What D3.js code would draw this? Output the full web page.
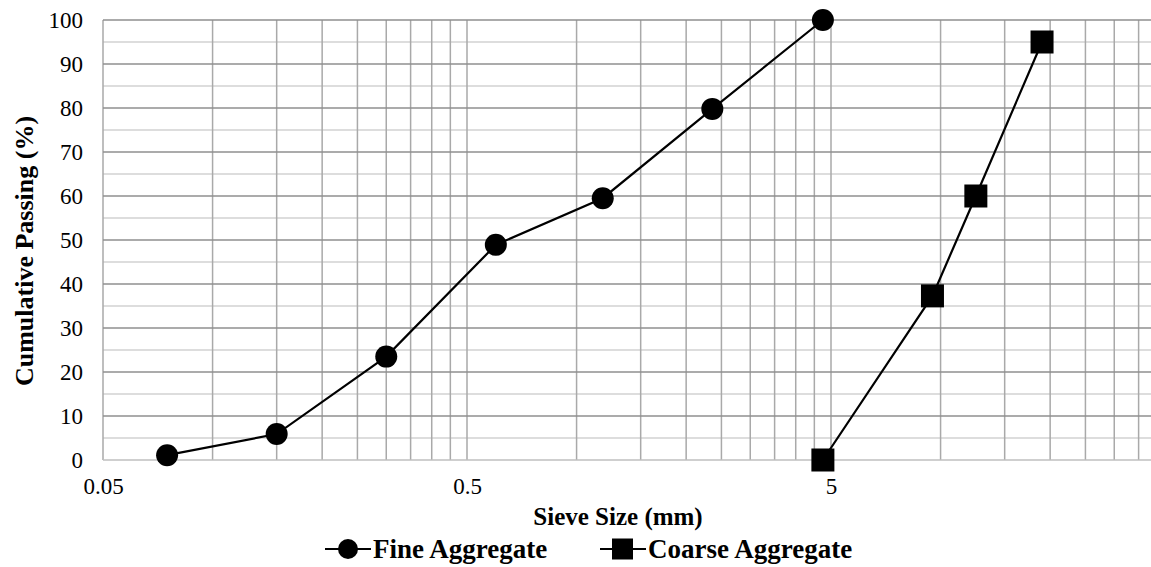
<!DOCTYPE html>
<html><head><meta charset="utf-8">
<script src="https://cdn.jsdelivr.net/npm/d3@7"></script>
<style>body{margin:0;background:#fff}svg{display:block}</style>
</head><body>
<svg id="c" width="1151" height="567"></svg>
<script>
const fineSize = [0.075, 0.15, 0.3, 0.6, 1.18, 2.36, 4.75];
const finePassing = [1.1, 5.9, 23.5, 48.9, 59.5, 79.8, 100];
const coarseSize = [4.75, 9.5, 12.5, 19];
const coarsePassing = [0, 37.3, 60, 95];
const xTickLabels = [0.05, 0.5, 5];
const yTicks = [0,10,20,30,40,50,60,70,80,90,100];
const seriesNames = ["Fine Aggregate", "Coarse Aggregate"];
const FONT = "Liberation Serif";

const svg = d3.select("#c");
const x = d3.scaleLog().domain([0.05, 50]).range([103, 1195]);
const y = d3.scaleLinear().domain([0, 100]).range([460, 20]);

const g = svg.append("g");
for (let v = 5; v < 100; v += 10) {
  g.append("line").attr("x1", 103).attr("x2", 1151).attr("y1", y(v)).attr("y2", y(v))
    .attr("stroke", "#d2d2d2").attr("stroke-width", 1.5);
}
const vAll = [];
[0.05, 0.5, 5].forEach(d => { for (let k = 1; k < 10; k++) vAll.push(d * k); });
vAll.forEach(v => {
  const px = x(v);
  if (px > 1151) return;
  g.append("line").attr("x1", px).attr("x2", px).attr("y1", y(0)).attr("y2", y(100))
    .attr("stroke", "#a9a9a9").attr("stroke-width", 1.5);
});
yTicks.forEach(v => {
  g.append("line").attr("x1", 103).attr("x2", 1151).attr("y1", y(v)).attr("y2", y(v))
    .attr("stroke", v === 0 ? "#bfbfbf" : "#8f8f8f").attr("stroke-width", 1.5);
});

const yAxis = d3.axisLeft(y).tickValues(yTicks).tickSize(0).tickPadding(0);
const ya = svg.append("g").attr("transform", "translate(83,0)").call(yAxis).attr("font-family", FONT).attr("font-size", 23);
ya.select(".domain").remove();
ya.selectAll("text").attr("fill", "#000");

const xAxis = d3.axisBottom(x).tickValues(xTickLabels).tickFormat(d => String(d)).tickSize(0).tickPadding(0);
const xa = svg.append("g").attr("transform", "translate(0,478)").call(xAxis).attr("font-family", FONT).attr("font-size", 23);
xa.select(".domain").remove();
xa.selectAll("text").attr("fill", "#000");

svg.append("text").attr("x", 618).attr("y", 525).attr("text-anchor", "middle").attr("font-family", FONT)
  .attr("font-size", 25).attr("font-weight", "bold").text("Sieve Size (mm)");
svg.append("text").attr("transform", "translate(33,251) rotate(-90)").attr("text-anchor", "middle").attr("font-family", FONT)
  .attr("font-size", 26).attr("font-weight", "bold").text("Cumulative Passing (%)");

const line = d3.line().x(d => x(d[0])).y(d => y(d[1]));
const fine = fineSize.map((s, i) => [s, finePassing[i]]);
const coarse = coarseSize.map((s, i) => [s, coarsePassing[i]]);
svg.append("path").attr("d", line(fine)).attr("fill", "none").attr("stroke", "#000").attr("stroke-width", 2.2);
svg.append("path").attr("d", line(coarse)).attr("fill", "none").attr("stroke", "#000").attr("stroke-width", 2.2);
svg.selectAll(".fp").data(fine).enter().append("circle")
  .attr("cx", d => x(d[0])).attr("cy", d => y(d[1])).attr("r", 11).attr("fill", "#000");
svg.selectAll(".cp").data(coarse).enter().append("rect")
  .attr("x", d => x(d[0]) - 11.5).attr("y", d => y(d[1]) - 11.5).attr("width", 23).attr("height", 23).attr("fill", "#000");

const ly = 549;
const lg = svg.append("g").attr("font-family", FONT).attr("font-size", 27).attr("font-weight", "bold");
lg.append("line").attr("x1", 325).attr("x2", 371).attr("y1", ly).attr("y2", ly).attr("stroke", "#000").attr("stroke-width", 2.2);
lg.append("circle").attr("cx", 348).attr("cy", ly).attr("r", 10).attr("fill", "#000");
lg.append("text").attr("x", 373).attr("y", ly + 9).text(seriesNames[0]);
lg.append("line").attr("x1", 600).attr("x2", 646).attr("y1", ly).attr("y2", ly).attr("stroke", "#000").attr("stroke-width", 2.2);
lg.append("rect").attr("x", 612).attr("y", ly - 10.5).attr("width", 21).attr("height", 21).attr("fill", "#000");
lg.append("text").attr("x", 648).attr("y", ly + 9).text(seriesNames[1]);
</script>
</body></html>
